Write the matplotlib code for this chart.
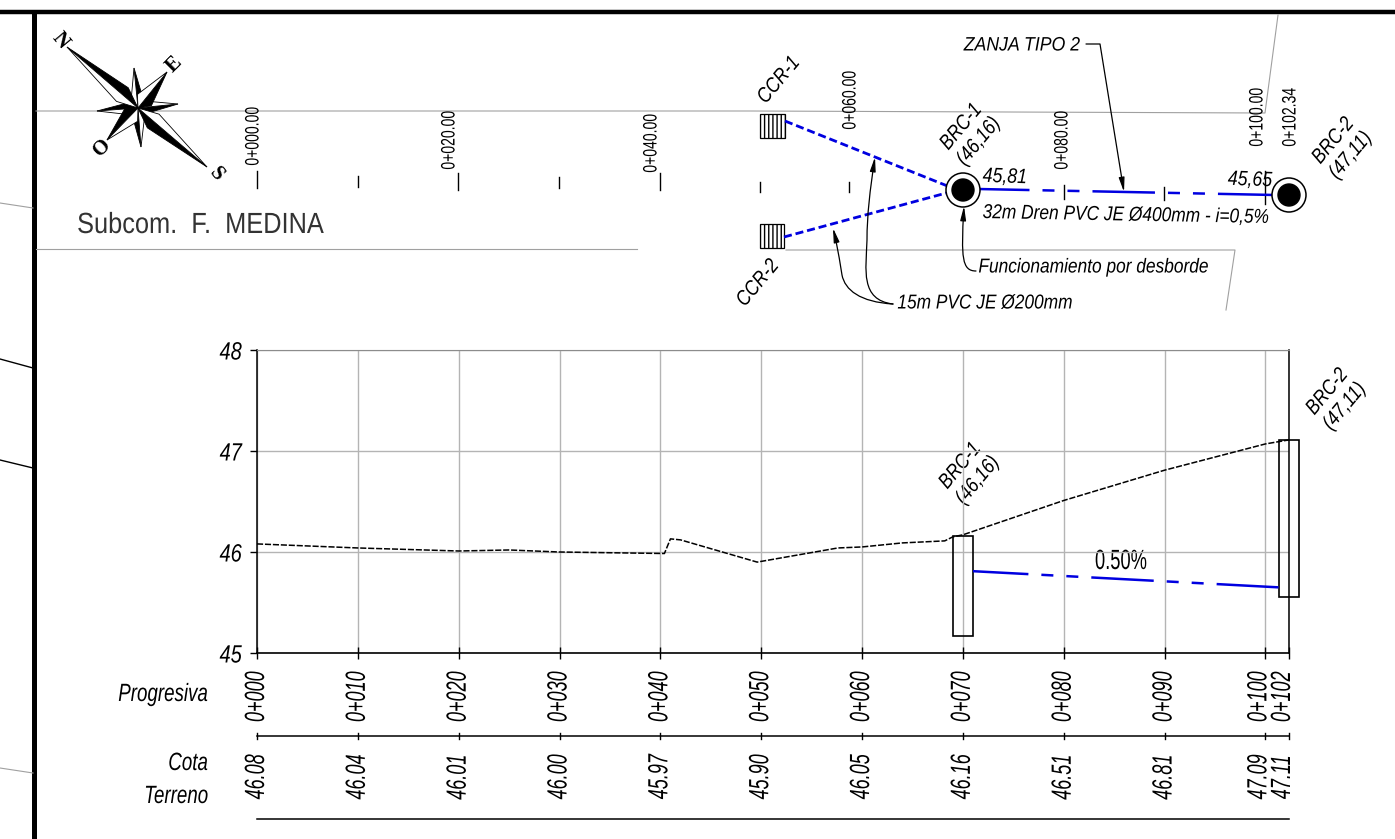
import matplotlib
matplotlib.use("Agg")
import matplotlib.pyplot as plt
from matplotlib.patches import Polygon, Circle, Rectangle, FancyArrowPatch
from matplotlib.path import Path
from matplotlib.patheffects import AbstractPathEffect
from matplotlib.transforms import Affine2D, blended_transform_factory

plt.rcParams["font.family"] = ["Liberation Sans"]

# profile data
stations = [0, 10, 20, 30, 40, 50, 60, 70, 80, 90, 100, 102.34]
prog_labels = ["0+000", "0+010", "0+020", "0+030", "0+040", "0+050", "0+060", "0+070",
               "0+080", "0+090", "0+100", "0+102"]
cota_labels = ["46.08", "46.04", "46.01", "46.00", "45.97", "45.90", "46.05", "46.16",
               "46.51", "46.81", "47.09", "47.11"]
label_shift = [0, 0, 0, 0, 0, 0, 0, 0, 0, 0, -6, -6]
ground_x = [0, 10, 20, 25, 30, 40.4, 41, 42, 49.6, 57.6, 60, 64, 68.2, 69, 70, 80, 90, 100, 102.34]
ground_y = [46.08, 46.04, 46.01, 46.02, 46.00, 45.985, 46.13, 46.12, 45.90, 46.04, 46.05, 46.09,
            46.11, 46.15, 46.17, 46.51, 46.81, 47.07, 47.11]
pipe_x = [71.0, 101.3]
pipe_y = [45.81, 45.65]
boxes = [(69.0, 71.0, 45.17, 46.16), (101.3, 103.3, 45.55, 47.11)]
y_ticks = [45, 46, 47, 48]

# plan view, in drawing pixels
plan_ticks_x = [257, 358, 458, 559, 660, 760, 849, 1064, 1164, 1265]
plan_ticks_top = [171, 176, 173, 177, 173, 182, 182, 185, 187, 171]
plan_ticks_bot = [188, 187, 190, 188, 190, 192, 192, 199, 200, 204]
plan_names = ["0+000.00", "0+020.00", "0+040.00", "0+060.00", "0+080.00", "0+100.00", "0+102.34"]
plan_names_x = [254, 450, 652, 851, 1063, 1258, 1291]
plan_names_y = [136, 140, 143, 100, 140, 117, 117]
gray_lines = [([36, 750, 1265, 1278], [111, 111, 113, 15]),
              ([36, 637], [249, 249]),
              ([786, 1235, 1226], [250, 250, 310]),
              ([0, 33], [203, 208]),
              ([0, 33], [768, 773])]
black_lines = [([0, 33], [359, 368]), ([0, 33], [460, 468])]
compass_center = (138, 108)
long_tips = [(67, 47), (207, 167), (167, 72), (107, 140)]
short_tips = [(134, 68), (141, 147), (97, 111), (178, 104)]
compass_letters = ["N", "S", "E", "O"]
compass_letters_x = [60, 216, 174, 102]
compass_letters_y = [41, 174, 65, 148]
compass_letters_rot = [-50, -50, 45, 45]


class Narrow(AbstractPathEffect):
    # CAD text is condensed, squeeze the glyphs along the baseline
    def __init__(self, k):
        super().__init__()
        self.k = k

    def draw_path(self, renderer, gc, tpath, affine, rgbFace=None):
        ext = tpath.get_extents()
        mid = (ext.x0 + ext.x1) / 2
        squeeze = Affine2D().translate(-mid, 0).scale(self.k, 1).translate(mid, 0)
        renderer.draw_path(gc, tpath, squeeze + affine, rgbFace)


fig = plt.figure(figsize=(13.95, 8.39), dpi=100)
page = fig.add_axes([0, 0, 1, 1])
page.set_xlim(0, 1395)
page.set_ylim(839, 0)
page.axis("off")

# profile axes sits on the same pixel grid
ax = fig.add_axes([257 / 1395, 1 - 653 / 839, (1289 - 257) / 1395, (653 - 350) / 839])
ax.set_xlim(0, 102.34)
ax.set_ylim(45, 48)
ax.patch.set_alpha(0)
ax.set_xticks(stations)
ax.set_yticks(y_ticks)
ax.set_xticklabels([])
ax.set_yticklabels([str(v) for v in y_ticks], fontsize=18, style="italic",
                   path_effects=[Narrow(0.8)])
ax.grid(color="#b4b4b4", lw=1.0)
ax.set_axisbelow(True)
ax.tick_params(axis="x", direction="inout", length=9, width=1.0)
ax.tick_params(axis="y", direction="out", length=5, width=1.0, pad=4)
ax.spines["top"].set(color="#8c8c8c", lw=0.8)
ax.spines["left"].set_linewidth(1.1)
ax.spines["right"].set_linewidth(1.1)
ax.spines["bottom"].set_linewidth(1.2)

ax.plot(ground_x, ground_y, color="black", lw=1.1, ls=(0, (4, 1.2)), clip_on=False)
ax.plot(pipe_x, pipe_y, color="#0000e0", lw=1.8, ls=(2.8, (25, 5.2, 4.8, 5.2, 4.8, 5.2)),
        dash_capstyle="butt")
for x0, x1, y0, y1 in boxes:
    ax.add_patch(Rectangle((x0, y0), x1 - x0, y1 - y0, fc="none", ec="black", lw=1.2, clip_on=False))
page.text(1121, 562, "0.50%", fontsize=20, ha="center", va="center", path_effects=[Narrow(0.66)])

# table under the profile
trans = blended_transform_factory(ax.transData, page.transData)
ax.plot([0, 102.34], [736, 736], color="black", lw=1.1, transform=trans, clip_on=False)
ax.plot([0, 102.34], [819, 819], color="black", lw=1.1, transform=trans, clip_on=False)
for st, lab, cota, dx in zip(stations, prog_labels, cota_labels, label_shift):
    ax.plot([st, st], [733, 739], color="black", lw=1.0, transform=trans, clip_on=False)
    for txt, ypos in [(lab, 697), (cota, 777)]:
        page.annotate(txt, (st, ypos), xycoords=trans, xytext=(dx * 0.72, 0), textcoords="offset points",
                      rotation=90, ha="center", va="center", fontsize=20, style="italic",
                      path_effects=[Narrow(0.65)])

for txt, x, y in [("Progresiva", 163, 694), ("Cota", 188, 763), ("Terreno", 176, 796)]:
    page.text(x, y, txt, ha="center", va="center", fontsize=18, style="italic",
              path_effects=[Narrow(0.75)])

# frame
page.plot([0, 1395], [12, 12], color="black", lw=3.2, solid_capstyle="butt")
page.plot([34, 34], [12, 839], color="black", lw=3.6, solid_capstyle="butt")
for xs, ys in gray_lines:
    page.plot(xs, ys, color="#a0a0a0", lw=0.8)
for xs, ys in black_lines:
    page.plot(xs, ys, color="black", lw=1.0)


def star_point(tip, half_width):
    cx, cy = compass_center
    dx, dy = tip[0] - cx, tip[1] - cy
    size = (dx * dx + dy * dy) ** 0.5
    nx, ny = -dy / size * half_width, dx / size * half_width
    mx, my = cx + dx * 0.22, cy + dy * 0.22
    page.add_patch(Polygon([(cx, cy), (mx + nx, my + ny), tip], fc="black", ec="black", lw=0.6, zorder=5))
    page.add_patch(Polygon([(cx, cy), (mx - nx, my - ny), tip], fc="white", ec="black", lw=0.6, zorder=5))


for tip in short_tips:
    star_point(tip, 6)
for tip in long_tips:
    star_point(tip, 9)
for name, x, y, rot in zip(compass_letters, compass_letters_x, compass_letters_y, compass_letters_rot):
    page.text(x, y, name, rotation=rot, ha="center", va="center", fontsize=15, fontweight="bold",
              family="Liberation Serif")

page.text(200, 225, "Subcom.  F.  MEDINA", ha="center", va="center", fontsize=21, color="#333333",
          path_effects=[Narrow(0.87)])

# plan view
for x, top, bot in zip(plan_ticks_x, plan_ticks_top, plan_ticks_bot):
    page.plot([x, x], [top, bot], color="black", lw=1.0)
for name, x, y in zip(plan_names, plan_names_x, plan_names_y):
    page.text(x, y, name, rotation=90, ha="center", va="center", fontsize=14,
              path_effects=[Narrow(0.72)])

for x0, x1, y0, y1 in [(760, 785, 114, 138), (760, 784, 224, 248)]:
    page.add_patch(Rectangle((x0, y0), x1 - x0, y1 - y0, fc="white", ec="black", lw=0.9, hatch="||||"))

page.plot([785, 950], [121, 187], color="#0000e0", lw=2.0, ls=(0, (2.9, 1.4)), dash_capstyle="butt")
page.plot([784, 950], [237, 192], color="#0000e0", lw=2.0, ls=(0, (2.9, 1.4)), dash_capstyle="butt")
page.plot([978, 1275], [189, 195], color="#0000e0", lw=1.8, ls=(4.4, (25, 5.2, 4.8, 5.2, 4.8, 5.2)),
          dash_capstyle="butt")
for cx, cy in [(963, 190), (1289, 195)]:
    page.add_patch(Circle((cx, cy), 17, fc="white", ec="black", lw=1.1, zorder=4))
    page.add_patch(Circle((cx, cy), 11, fc="black", ec="black", zorder=5))

leaders = [
    ([(1086, 44), (1100, 44), (1124, 192)], [Path.MOVETO, Path.LINETO, Path.LINETO]),
    ([(976, 271), (962, 271), (961, 258), (964, 206)], [Path.MOVETO, Path.CURVE4, Path.CURVE4, Path.CURVE4]),
    ([(893, 304), (860, 300), (866, 270), (867, 240), (867, 215), (870, 190), (875, 157)],
     [Path.MOVETO] + [Path.CURVE4] * 6),
    ([(893, 304), (860, 302), (845, 290), (842, 275), (838, 250), (836, 240), (833, 228)],
     [Path.MOVETO] + [Path.CURVE4] * 6),
]
for pts, codes in leaders:
    page.add_patch(FancyArrowPatch(path=Path(pts, codes), arrowstyle="-|>,head_length=0.7,head_width=0.14",
                                   mutation_scale=12, color="black", lw=0.9, zorder=6))

# notes
notes = [
    ("ZANJA TIPO 2", 1022, 46, 0, 14, 0.91, 1.0),
    ("45,81", 1005, 177, -2, 15, 0.85, 1.0),
    ("45,65", 1250, 180, -2, 15, 0.85, 1.0),
    ("32m Dren PVC JE Ø400mm - i=0,5%", 1126, 215, -1, 14.5, 0.86, 1.0),
    ("Funcionamiento por desborde", 1094, 267, 0, 14.5, 0.86, 1.0),
    ("15m PVC JE Ø200mm", 985, 303, 0, 14.5, 0.86, 1.0),
    ("CCR-1", 779, 80, 50, 15, 0.85, 1.0),
    ("CCR-2", 758, 283, 50, 15, 0.85, 1.0),
    ("BRC-1\n(46,16)", 970, 134, 50, 15, 0.85, 1.25),
    ("BRC-2\n(47,11)", 1342, 148, 50, 15, 0.85, 1.25),
    ("BRC-1\n(46,16)", 969, 473, 50, 15, 0.85, 1.25),
    ("BRC-2\n(47,11)", 1336, 399, 50, 15, 0.85, 1.25),
]
for txt, x, y, rot, size, squeeze, spacing in notes:
    page.text(x, y, txt, rotation=rot, ha="center", va="center", fontsize=size, style="italic",
              linespacing=spacing, zorder=7, path_effects=[Narrow(squeeze)])

fig.savefig("out.png", dpi=100)
